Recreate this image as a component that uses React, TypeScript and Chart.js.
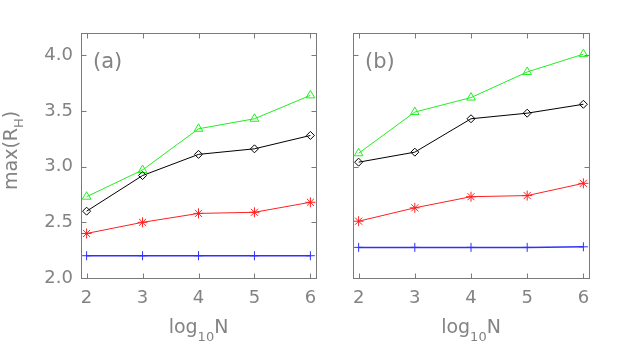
import React, { useEffect, useRef } from 'react';
import { Chart, registerables } from 'chart.js';
Chart.register(...registerables);

// ---- data ----
const xValues = [2, 3, 4, 5, 6];
const xTicks = [2, 3, 4, 5, 6];
const yTicksA = [2.0, 2.5, 3.0, 3.5, 4.0];
const yTicksB = [3.0, 4.0];

const aTriangle = [2.73, 2.97, 3.34, 3.43, 3.64];
const aDiamond = [2.6, 2.92, 3.11, 3.16, 3.28];
const aStar = [2.4, 2.5, 2.58, 2.59, 2.68];
const aCross = [2.2, 2.2, 2.2, 2.2, 2.2];

const bTriangle = [3.12, 3.49, 3.62, 3.85, 4.01];
const bDiamond = [3.04, 3.13, 3.43, 3.48, 3.56];
const bStar = [2.51, 2.63, 2.73, 2.74, 2.85];
const bCross = [2.275, 2.275, 2.275, 2.275, 2.28];

const AXIS = '#7a7a7a';
const TEXT = '#838383';
const FAMILY = '"DejaVu Sans", sans-serif';

const pts = (vals: number[]) => vals.map((y, i) => ({ x: xValues[i], y }));

function datasets(tri: number[], dia: number[], star: number[], cross: number[]) {
  const base = { showLine: true, tension: 0, borderWidth: 1, backgroundColor: 'rgba(0,0,0,0)' };
  return [
    { ...base, data: pts(cross), borderColor: '#3030ff', pointStyle: 'cross', pointRadius: 4.5, pointBorderWidth: 1, borderWidth: 1.5 },
    { ...base, data: pts(star), borderColor: '#ff2020', pointStyle: 'star', pointRadius: 5, pointBorderWidth: 1 },
    { ...base, data: pts(dia), borderColor: '#000000', pointStyle: 'rectRot', pointRadius: 4, pointBorderWidth: 1 },
    { ...base, data: pts(tri), borderColor: '#22ee22', pointStyle: 'triangle', pointRadius: 5, pointBorderWidth: 1 },
  ];
}

const framePlugin = {
  id: 'frame',
  beforeDatasetsDraw(chart: any, _a: any, opts: any) {
    const { ctx, chartArea: ca, scales } = chart;
    ctx.save();
    ctx.strokeStyle = AXIS;
    ctx.lineWidth = 1;
    const L = Math.round(ca.left) + 0.5, R = Math.round(ca.right) + 0.5;
    const T = Math.round(ca.top) + 0.5, B = Math.round(ca.bottom) + 0.5;
    ctx.strokeRect(L, T, R - L, B - T);
    ctx.beginPath();
    for (const v of xTicks) {
      const px = Math.round(scales.x.getPixelForValue(v)) + 0.5;
      ctx.moveTo(px, B); ctx.lineTo(px, B - 5);
      ctx.moveTo(px, T); ctx.lineTo(px, T + 5);
    }
    for (const v of opts.yTicks) {
      const py = Math.round(scales.y.getPixelForValue(v)) + 0.5;
      ctx.moveTo(L, py); ctx.lineTo(L + 5, py);
      ctx.moveTo(R, py); ctx.lineTo(R - 5, py);
    }
    ctx.stroke();
    ctx.restore();
  },
  afterDraw(chart: any, _a: any, opts: any) {
    const { ctx, chartArea: ca } = chart;
    ctx.save();
    ctx.fillStyle = TEXT;
    ctx.textBaseline = 'alphabetic';
    ctx.textAlign = 'left';
    // panel label
    ctx.font = `21px ${FAMILY}`;
    ctx.fillText(opts.label, ca.left + 12, 68);
    // x title: log_10 N
    const big = `19px ${FAMILY}`, small = `13px ${FAMILY}`;
    ctx.font = big;
    const w1 = ctx.measureText('log').width, w3 = ctx.measureText('N').width;
    ctx.font = small;
    const w2 = ctx.measureText('10').width;
    const cx = (ca.left + ca.right) / 2;
    let x = cx - (w1 + w2 + w3) / 2;
    const base = 333;
    ctx.font = big; ctx.fillText('log', x, base); x += w1;
    ctx.font = small; ctx.fillText('10', x, base + 8); x += w2;
    ctx.font = big; ctx.fillText('N', x, base);
    // y title
    if (opts.yTitle) {
      ctx.translate(17, 190);
      ctx.rotate(-Math.PI / 2);
      ctx.font = big;
      const a = 'max(R';
      ctx.fillText(a, 0, 0);
      let xx = ctx.measureText(a).width;
      ctx.font = small;
      ctx.fillText('H', xx, 6);
      xx += ctx.measureText('H').width;
      ctx.font = big;
      ctx.fillText(')', xx, 0);
    }
    ctx.restore();
  },
};

function makeConfig(opts: {
  tri: number[]; dia: number[]; star: number[]; cross: number[];
  yTicks: number[]; showYLabels: boolean; yWidth: number; padRight: number; label: string; yTitle: boolean;
}): any {
  return {
    type: 'line',
    data: { datasets: datasets(opts.tri, opts.dia, opts.star, opts.cross) },
    plugins: [framePlugin],
    options: {
      responsive: false,
      animation: false,
      devicePixelRatio: 1,
      layout: { padding: { left: 0, top: 33, right: opts.padRight, bottom: 0 } },
      plugins: {
        legend: { display: false },
        tooltip: { enabled: false },
        frame: { yTicks: opts.yTicks, label: opts.label, yTitle: opts.yTitle },
      },
      scales: {
        x: {
          type: 'linear',
          min: 1.9,
          max: 6.1,
          afterBuildTicks: (s: any) => { s.ticks = xTicks.map((v) => ({ value: v })); },
          afterFit: (s: any) => { s.height = 71; },
          grid: { display: false, drawTicks: false },
          border: { display: false },
          ticks: {
            color: TEXT,
            font: { family: FAMILY, size: 18 },
            padding: 10,
            maxRotation: 0,
            autoSkip: false,
            callback: (v: any) => String(v),
          },
        },
        y: {
          type: 'linear',
          min: 2.0,
          max: 4.2,
          afterBuildTicks: (s: any) => { s.ticks = opts.yTicks.map((v) => ({ value: v })); },
          afterFit: (s: any) => { s.width = opts.yWidth; },
          grid: { display: false, drawTicks: false },
          border: { display: false },
          ticks: {
            display: opts.showYLabels,
            color: TEXT,
            font: { family: FAMILY, size: 18 },
            padding: 8,
            callback: (v: any) => Number(v).toFixed(1),
          },
        },
      },
    },
  };
}

export default function App() {
  const refA = useRef<HTMLCanvasElement>(null);
  const refB = useRef<HTMLCanvasElement>(null);
  useEffect(() => {
    const a = new Chart(refA.current as HTMLCanvasElement, makeConfig({
      tri: aTriangle, dia: aDiamond, star: aStar, cross: aCross,
      yTicks: yTicksA, showYLabels: true, yWidth: 81, padRight: 620 - 316, label: '(a)', yTitle: true,
    }));
    const b = new Chart(refB.current as HTMLCanvasElement, makeConfig({
      tri: bTriangle, dia: bDiamond, star: bStar, cross: bCross,
      yTicks: yTicksB, showYLabels: false, yWidth: 353, padRight: 620 - 589, label: '(b)', yTitle: false,
    }));
    return () => { a.destroy(); b.destroy(); };
  }, []);
  const cs: React.CSSProperties = { position: 'absolute', left: 0, top: 0, width: 620, height: 349 };
  return (
    <div style={{ position: 'fixed', left: 0, top: 0, width: 620, height: 349, background: '#ffffff' }}>
      <canvas ref={refA} width={620} height={349} style={cs} />
      <canvas ref={refB} width={620} height={349} style={{ ...cs, pointerEvents: 'none' }} />
    </div>
  );
}
